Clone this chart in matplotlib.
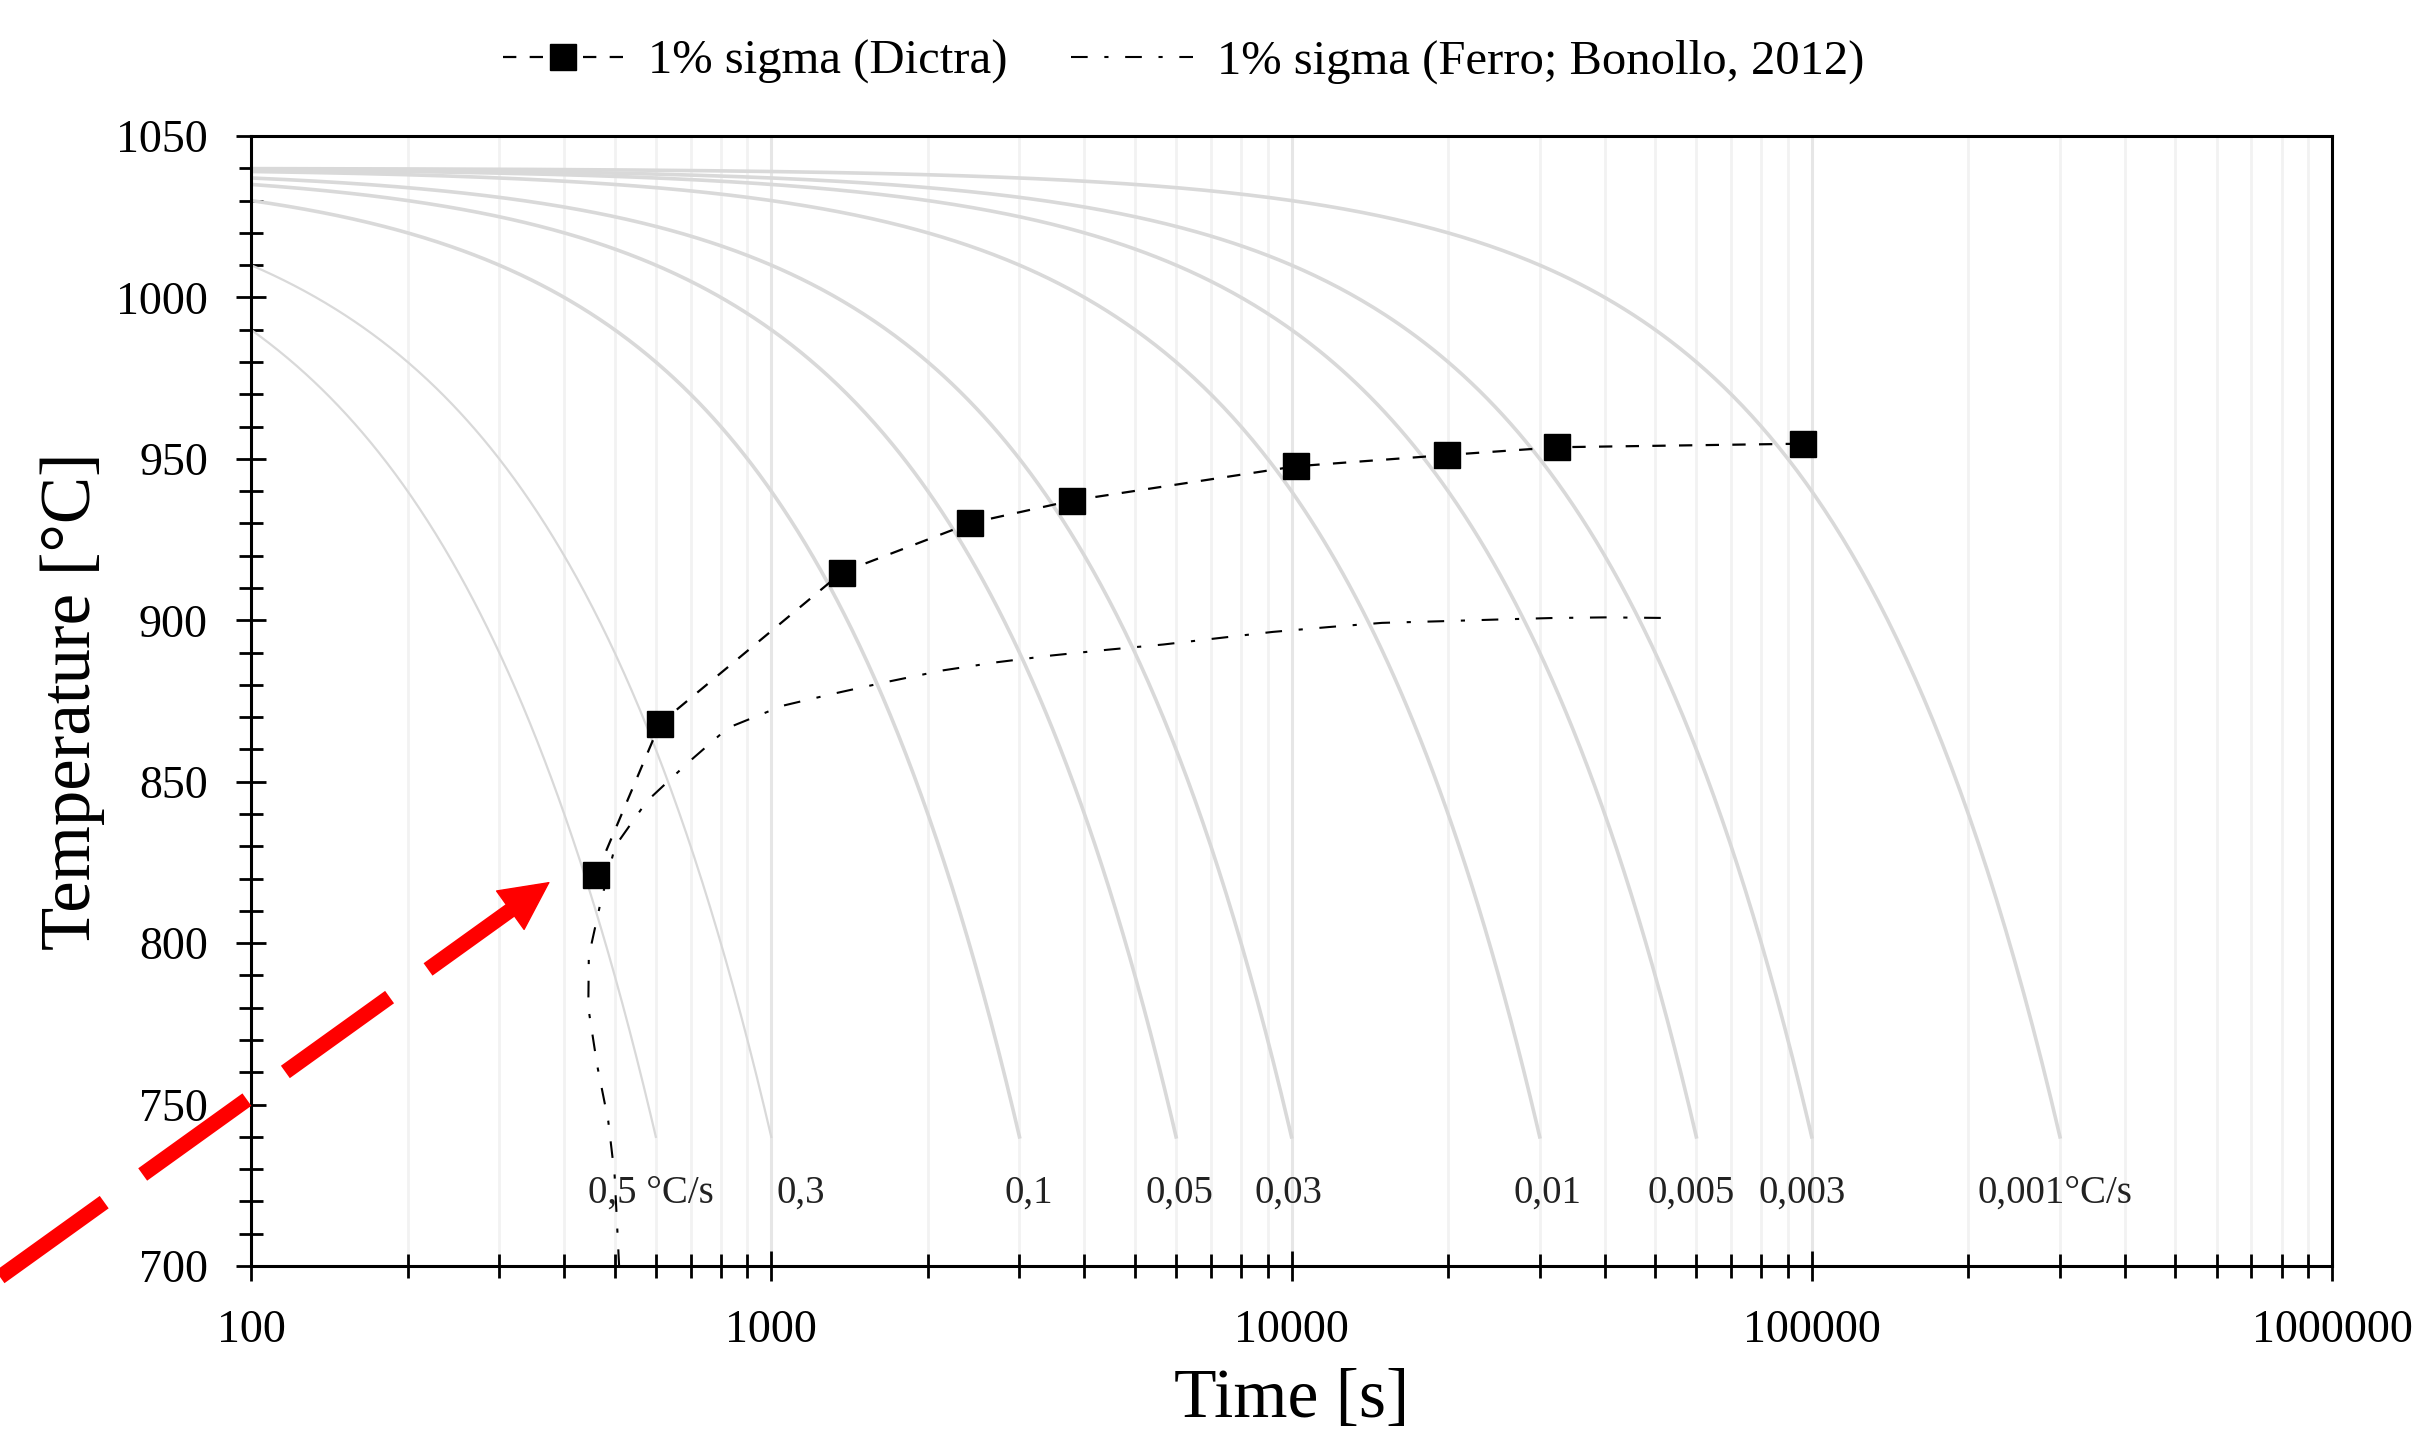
import numpy as np
import matplotlib
matplotlib.use("Agg")
import matplotlib.pyplot as plt
from matplotlib.ticker import LogLocator, MultipleLocator, FuncFormatter, NullFormatter

plt.rcParams["font.family"] = ["Liberation Serif", "DejaVu Serif"]

# constant cooling rates of the grey curves (degC/s), start / end temperature
RATES = [0.5, 0.3, 0.1, 0.05, 0.03, 0.01, 0.005, 0.003, 0.001]
RATE_LABELS = ["0,5 °C/s", "0,3", "0,1", "0,05", "0,03", "0,01", "0,005", "0,003", "0,001°C/s"]
T_START = 1040
T_STOP = 740

# 1% sigma, Dictra
DICTRA_TIME = [460, 611, 1366, 2415, 3790, 10200, 19900, 32400, 96250]
DICTRA_TEMP = [821, 868, 914.8, 930.1, 937.1, 947.7, 951.2, 953.6, 954.7]

# 1% sigma, Ferro; Bonollo 2012
FERRO_TIME = [510, 500, 486, 463, 445, 446, 469, 501, 577, 693, 826, 1050, 1320, 1667,
              2141, 2713, 3459, 4446, 5671, 7261, 9204, 11790, 14930, 19310, 24480,
              31620, 40120, 53800]
FERRO_TEMP = [700, 728, 745, 762, 780, 796, 812, 830, 844, 856, 866.7, 873.5, 877.3, 880.9,
              884.5, 887.0, 889.1, 890.9, 892.5, 894.5, 896.4, 897.9, 899.2, 899.7, 900.2,
              900.7, 900.9, 900.7]

# where the rate labels sit (left edge, s) and at which temperature
LABEL_TIME = [444, 1024, 2802, 5229, 8473, 26770, 48240, 79150, 207800]
LABEL_TEMP = 722.7

fig = plt.figure(figsize=(24.3, 14.35), dpi=100)
ax = fig.add_axes([251 / 2430, 1 - 1266 / 1435, 2081 / 2430, 1130 / 1435])

for r in RATES:
    t = np.geomspace(100, (T_START - T_STOP) / r, 400)
    ax.plot(t, T_START - r * t, color="#d9d9d9", lw=1.6 if r >= 0.3 else 2.6, zorder=1)

for x, s in zip(LABEL_TIME, RATE_LABELS):
    ax.text(x, LABEL_TEMP, s, fontsize=28, ha="left", va="center", color="#222222")

l1, = ax.plot(DICTRA_TIME, DICTRA_TEMP, color="black", lw=1.6, ls=(0, (6, 6)),
              marker="s", ms=19, mfc="black", mec="black", zorder=4,
              label="1% sigma (Dictra)")
l2, = ax.plot(FERRO_TIME, FERRO_TEMP, color="black", lw=1.5, ls=(0, (8, 8, 2, 8)),
              zorder=3, label="1% sigma (Ferro; Bonollo, 2012)")

ax.set_xscale("log")
ax.set_xlim(100, 1e6)
ax.set_ylim(700, 1050)
ax.xaxis.set_major_locator(LogLocator(base=10))
ax.xaxis.set_minor_locator(LogLocator(base=10, subs=np.arange(2, 10)))
ax.xaxis.set_major_formatter(FuncFormatter(lambda v, p: f"{int(round(v))}"))
ax.xaxis.set_minor_formatter(NullFormatter())
ax.yaxis.set_major_locator(MultipleLocator(50))
ax.yaxis.set_minor_locator(MultipleLocator(10))

ax.grid(True, which="major", axis="x", color="#e6e6e6", lw=2.2)
ax.grid(True, which="minor", axis="x", color="#f2f2f2", lw=2.0)
ax.set_axisbelow(True)

ax.tick_params(which="both", direction="inout", color="black", width=2,
               labelsize=33, pad=20, right=False, top=False)
ax.tick_params(which="major", length=22)
ax.tick_params(which="minor", length=17)
for sp in ax.spines.values():
    sp.set_linewidth(2.2)

ax.set_xlabel("Time [s]", fontsize=50, labelpad=12)
ax.set_ylabel("Temperature [°C]", fontsize=51, labelpad=8)

fig.legend(handles=[l1, l2], loc="center", bbox_to_anchor=(0.487, 0.957),
           ncol=2, frameon=False, fontsize=35, handlelength=2.5,
           columnspacing=1.3, handletextpad=0.5)

# red dashed arrow pointing at the first Dictra point
tip = (375.6, 819)
ax.annotate("", xy=tip, xycoords="data", xytext=(0.0, 0.1101),
            textcoords="figure fraction",
            arrowprops=dict(arrowstyle="-", color="red", lw=11,
                            ls=(0, (8.4, 3.1)), shrinkA=0, shrinkB=30,
                            capstyle="butt"),
            zorder=6)
ax.annotate("", xy=tip, xycoords="data", xytext=(-0.813 * 34, -0.582 * 34),
            textcoords="offset points",
            arrowprops=dict(arrowstyle="-|>,head_length=34,head_width=17",
                            mutation_scale=1, color="red", lw=1, shrinkA=0, shrinkB=0),
            zorder=6)

fig.savefig("out.png", dpi=100)
